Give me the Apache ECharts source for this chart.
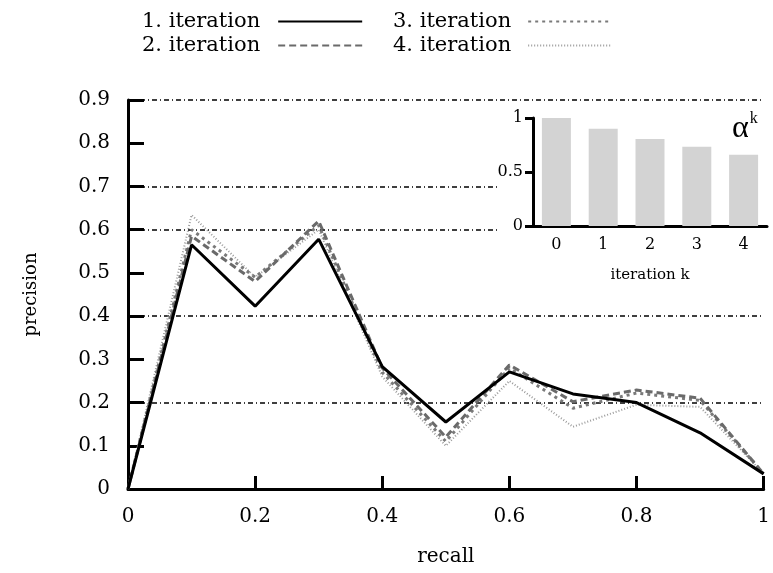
<!DOCTYPE html>
<html>
<head>
<meta charset="utf-8">
<script src="https://cdn.jsdelivr.net/npm/echarts@6/dist/echarts.min.js"></script>
<style>
  html, body { margin: 0; padding: 0; background: #fff; }
  #chart { width: 773px; height: 573px; }
</style>
</head>
<body>
<div id="chart"></div>
<script>
  // recall positions
  var recall = [0, 0.1, 0.2, 0.3, 0.4, 0.5, 0.6, 0.7, 0.8, 0.9, 1.0]
  // precision per iteration
  var iter1 = [0, 0.565, 0.423, 0.578, 0.283, 0.155, 0.271, 0.22, 0.2, 0.13, 0.035]
  var iter2 = [0, 0.585, 0.48, 0.62, 0.28, 0.12, 0.287, 0.202, 0.229, 0.21, 0.035]
  var iter3 = [0, 0.60, 0.49, 0.61, 0.27, 0.11, 0.28, 0.187, 0.222, 0.205, 0.035]
  var iter4 = [0, 0.634, 0.49, 0.60, 0.26, 0.10, 0.25, 0.144, 0.195, 0.19, 0.035]
  var seriesNames = ['1. iteration', '2. iteration', '3. iteration', '4. iteration']
  // horizontal dash-dot lines that appear in the picture
  var gridValues = [0.2, 0.4, 0.6, 0.7, 0.9]
  // inset: alpha^k per iteration
  var insetCats = ['0', '1', '2', '3', '4']
  var alphaK = [1.0, 0.9, 0.805, 0.734, 0.66]

  var font = 'DejaVu Serif'

  function pairs (ys) {
    var out = []
    for (var i = 0; i < recall.length; i++) {
      out.push([recall[i], ys[i]])
    }
    return out
  }

  var styles = [
    { color: '#000000', width: 3, type: 'solid' },
    { color: '#6a6a6a', width: 3, type: [7, 4] },
    { color: '#7a7a7a', width: 3, type: [3, 4] },
    { color: '#9a9a9a', width: 2, type: [1, 2] }
  ]
  var allData = [iter1, iter2, iter3, iter4]

  var series = []
  for (var s = 0; s < 4; s++) {
    series.push({
      name: seriesNames[s],
      type: 'line',
      xAxisIndex: 0,
      yAxisIndex: 0,
      symbol: 'none',
      z: 3 + (3 - s),
      color: styles[s].color,
      lineStyle: styles[s],
      data: pairs(allData[s])
    })
  }
  // dash-dot grid lines
  series[0].markLine = {
    silent: true,
    symbol: 'none',
    label: { show: false },
    z: 1,
    lineStyle: { color: '#000', width: 1.5, type: [5, 3, 1, 3] },
    data: gridValues.map(function (v) { return { yAxis: v } })
  }
  series.push({
    name: 'alpha',
    type: 'bar',
    xAxisIndex: 1,
    yAxisIndex: 1,
    barWidth: 29,
    z: 20,
    itemStyle: { color: '#d3d3d3' },
    data: alphaK
  })

  var legendText = { fontFamily: font, fontSize: 21, color: '#000' }

  var myChart = echarts.init(document.getElementById('chart'))
  myChart.setOption({
    animation: false,
    backgroundColor: '#fff',
    textStyle: { fontFamily: font, color: '#000' },
    title: {
      left: 727,
      top: 106,
      z: 20,
      text: '{a|α}{k|k}',
      textStyle: {
        rich: {
          a: { fontFamily: 'Liberation Serif', fontSize: 32, fontWeight: 'normal', color: '#000', verticalAlign: 'bottom' },
          k: { fontFamily: 'Liberation Serif', fontSize: 16, fontWeight: 'normal', color: '#000', verticalAlign: 'top', padding: [0, 0, 18, 1] }
        }
      }
    },
    legend: [
      {
        left: 137,
        top: 6,
        orient: 'vertical',
        align: 'right',
        itemWidth: 84,
        itemHeight: 14,
        itemGap: 3,
        itemStyle: { opacity: 0 },
        textStyle: Object.assign({ padding: [0, 13, 0, 0] }, legendText),
        data: [seriesNames[0], seriesNames[1]]
      },
      {
        left: 388,
        top: 6,
        orient: 'vertical',
        align: 'right',
        itemWidth: 83,
        itemHeight: 14,
        itemGap: 3,
        itemStyle: { opacity: 0 },
        textStyle: Object.assign({ padding: [0, 12, 0, 0] }, legendText),
        data: [seriesNames[2], seriesNames[3]]
      }
    ],
    graphic: [
      {
        type: 'rect',
        z: 10,
        shape: { x: 500, y: 104, width: 273, height: 176 },
        style: { fill: '#fff' }
      }
    ],
    grid: [
      { left: 128, right: 5, top: 100, bottom: 84 },
      { left: 533, top: 118, width: 234, height: 108, z: 20 }
    ],
    xAxis: [
      {
        type: 'value',
        gridIndex: 0,
        min: 0,
        max: 1,
        interval: 0.2,
        name: 'recall',
        nameLocation: 'middle',
        nameGap: 58,
        nameTextStyle: { fontFamily: font, fontSize: 20, color: '#000' },
        axisLine: { lineStyle: { color: '#000', width: 3 } },
        axisTick: { inside: true, length: 13, lineStyle: { color: '#000', width: 3 } },
        axisLabel: { fontFamily: font, fontSize: 20, color: '#000', margin: 18 },
        splitLine: { show: false }
      },
      {
        type: 'category',
        gridIndex: 1,
        data: insetCats,
        z: 20,
        name: 'iteration k',
        nameLocation: 'middle',
        nameGap: 42,
        nameTextStyle: { fontFamily: font, fontSize: 15, color: '#000' },
        axisLine: { lineStyle: { color: '#000', width: 3 } },
        axisTick: { alignWithLabel: true, length: 8, lineStyle: { color: '#000', width: 3 } },
        axisLabel: { fontFamily: font, fontSize: 16, color: '#000', margin: 11 }
      }
    ],
    yAxis: [
      {
        type: 'value',
        gridIndex: 0,
        min: 0,
        max: 0.9,
        interval: 0.1,
        name: 'precision',
        nameLocation: 'middle',
        nameGap: 88,
        nameRotate: 90,
        nameTextStyle: { fontFamily: font, fontSize: 18, color: '#000' },
        axisLine: { show: true, lineStyle: { color: '#000', width: 3 } },
        axisTick: { show: true, inside: true, length: 16, lineStyle: { color: '#000', width: 3 } },
        axisLabel: { fontFamily: font, fontSize: 20, color: '#000', margin: 18 },
        splitLine: { show: false }
      },
      {
        type: 'value',
        gridIndex: 1,
        min: 0,
        max: 1,
        interval: 0.5,
        z: 20,
        axisLine: { show: true, lineStyle: { color: '#000', width: 3 } },
        axisTick: { show: true, length: 8, lineStyle: { color: '#000', width: 3 } },
        axisLabel: { fontFamily: font, fontSize: 16, color: '#000', margin: 10 },
        splitLine: { show: false }
      }
    ],
    series: series
  })
</script>
</body>
</html>
